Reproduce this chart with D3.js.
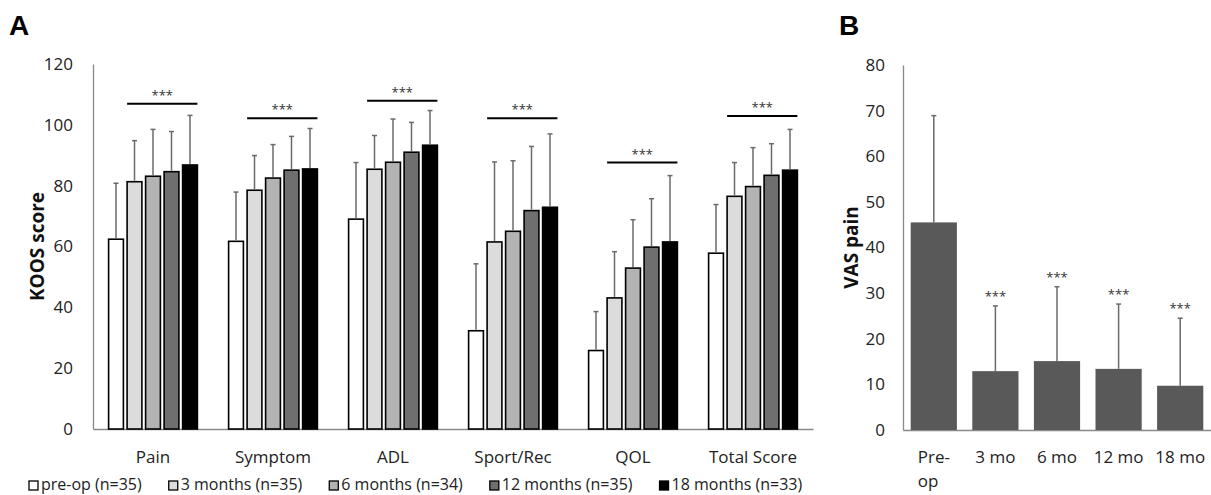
<!DOCTYPE html>
<html>
<head>
<meta charset="utf-8">
<script src="https://cdn.jsdelivr.net/npm/d3@7"></script>
<style>
  body { margin: 0; background: #fff; }
  svg { display: block; }
  text { font-family: "Open Sans", sans-serif; fill: #222; }
</style>
</head>
<body>
<svg id="chart" width="1211" height="495"></svg>
<script>
// Panel A: KOOS subscales by time point
const categories = ["Pain", "Symptom", "ADL", "Sport/Rec", "QOL", "Total Score"];
const timepoints = ["pre-op (n=35)", "3 months (n=35)", "6 months (n=34)", "12 months (n=35)", "18 months (n=33)"];
const preop = [62.4, 61.7, 69.0, 32.3, 25.8, 57.8];
const m3    = [81.3, 78.5, 85.4, 61.5, 43.1, 76.5];
const m6    = [83.1, 82.5, 87.7, 65.0, 52.9, 79.7];
const m12   = [84.6, 85.1, 91.0, 71.8, 59.8, 83.4];
const m18   = [86.8, 85.5, 93.3, 72.9, 61.5, 85.1];
const sdPreop = [18.4, 16.2, 18.6, 22.0, 12.8, 16.0];
const sd3     = [13.5, 11.4, 11.1, 26.3, 15.2, 11.1];
const sd6     = [15.4, 11.0, 14.2, 23.2, 15.9, 12.8];
const sd12    = [13.2, 11.1,  9.8, 21.1, 15.9, 10.4];
const sd18    = [16.3, 13.3, 11.4, 24.1, 21.8, 13.4];
const sigLevel = [106.9, 102.2, 107.9, 102.2, 87.6, 102.9];
const koosTicks = [0, 20, 40, 60, 80, 100, 120];

// Panel B: VAS pain
const vasLabels = ["Pre-op", "3 mo", "6 mo", "12 mo", "18 mo"];
const vasMeans = [45.5, 12.9, 15.1, 13.4, 9.7];
const vasSd = [23.4, 14.3, 16.3, 14.2, 14.8];
const vasSig = [false, true, true, true, true];
const vasTicks = [0, 10, 20, 30, 40, 50, 60, 70, 80];

const means = [preop, m3, m6, m12, m18];
const sds = [sdPreop, sd3, sd6, sd12, sd18];
const fills = ["#ffffff", "#dcdcdc", "#b3b3b3", "#6f6f6f", "#000000"];

const svg = d3.select("#chart");
const axisColor = "#898989";
const errColor = "#6a6a6a";

// ---------- Panel A ----------
const y = d3.scaleLinear().domain([0, 120]).range([429, 64]);
const x = d3.scaleBand().domain(categories).range([93, 813])
            .paddingInner(0.26).paddingOuter(0.13);
const xi = d3.scaleBand().domain(timepoints).range([0, x.bandwidth()]).paddingInner(0.2);

svg.append("text").attr("x", 9).attr("y", 35)
   .style("font-family", "'Liberation Sans', Arial, sans-serif")
   .style("font-weight", "bold").style("font-size", "28px").style("fill", "#000")
   .text("A");

const yAxisA = svg.append("g").attr("transform", "translate(93,0)")
   .call(d3.axisLeft(y).tickValues(koosTicks).tickSize(0).tickSizeOuter(0).tickPadding(20));
yAxisA.selectAll("text").style("font-size", "17px").style("font-family", "'Open Sans', sans-serif").attr("fill", "#222");

const xAxisA = svg.append("g").attr("transform", "translate(0,429)")
   .call(d3.axisBottom(x).tickSize(0).tickSizeOuter(0).tickPadding(22));
xAxisA.selectAll("text").style("font-size", "17px").style("font-family", "'Open Sans', sans-serif").attr("fill", "#222");

svg.selectAll(".domain").attr("stroke", axisColor).attr("stroke-width", 1.3);

svg.append("text")
   .attr("transform", `translate(44,${(y(0) + y(120)) / 2}) rotate(-90)`)
   .attr("text-anchor", "middle")
   .style("font-weight", "bold").style("font-size", "19px").style("fill", "#111")
   .text("KOOS score");

const rows = [];
categories.forEach((c, ci) => {
    timepoints.forEach((t, ti) => {
        rows.push({ cat: c, tp: t, ti: ti, mean: means[ti][ci], sd: sds[ti][ci] });
    });
});

const barsA = svg.append("g");
barsA.selectAll("rect").data(rows).join("rect")
   .attr("x", d => x(d.cat) + xi(d.tp))
   .attr("y", d => y(d.mean))
   .attr("width", xi.bandwidth())
   .attr("height", d => y(0) - y(d.mean))
   .attr("fill", d => fills[d.ti])
   .attr("stroke", "#000").attr("stroke-width", 1.6);

const errA = svg.append("g").attr("stroke", errColor).attr("stroke-width", 1.5);
errA.selectAll("line.v").data(rows).join("line").attr("class", "v")
   .attr("x1", d => x(d.cat) + xi(d.tp) + xi.bandwidth() / 2)
   .attr("x2", d => x(d.cat) + xi(d.tp) + xi.bandwidth() / 2)
   .attr("y1", d => y(d.mean) - 1)
   .attr("y2", d => y(d.mean + d.sd));
errA.selectAll("line.c").data(rows).join("line").attr("class", "c")
   .attr("x1", d => x(d.cat) + xi(d.tp) + xi.bandwidth() / 2 - 2.5)
   .attr("x2", d => x(d.cat) + xi(d.tp) + xi.bandwidth() / 2 + 2.5)
   .attr("y1", d => y(d.mean + d.sd))
   .attr("y2", d => y(d.mean + d.sd));

const sig = svg.append("g");
categories.forEach((c, ci) => {
    const x1 = x(c) + xi(timepoints[1]);
    const x2 = x(c) + xi(timepoints[4]) + xi.bandwidth();
    const ly = y(sigLevel[ci]);
    sig.append("line").attr("x1", x1).attr("x2", x2).attr("y1", ly).attr("y2", ly)
       .attr("stroke", "#000").attr("stroke-width", 2);
    sig.append("text").attr("x", (x1 + x2) / 2).attr("y", ly - 4)
       .attr("text-anchor", "middle").style("font-size", "13px").style("fill", "#333")
       .text("***");
});

// legend
const legend = svg.append("g");
let lx = 29;
timepoints.forEach((t, ti) => {
    legend.append("rect").attr("x", lx).attr("y", 481).attr("width", 9).attr("height", 9)
       .attr("fill", fills[ti]).attr("stroke", "#000").attr("stroke-width", 1.3);
    const txt = legend.append("text").attr("x", lx + 12).attr("y", 490)
       .style("font-size", "16px").text(t);
    lx += 12 + txt.node().getComputedTextLength() + 27;
});

// ---------- Panel B ----------
const yB = d3.scaleLinear().domain([0, 80]).range([430, 65]);
const xB = d3.scaleBand().domain(vasLabels).range([903, 1211])
             .paddingInner(0.25).paddingOuter(0.125);

svg.append("text").attr("x", 839).attr("y", 35)
   .style("font-family", "'Liberation Sans', Arial, sans-serif")
   .style("font-weight", "bold").style("font-size", "28px").style("fill", "#000")
   .text("B");

const yAxisB = svg.append("g").attr("transform", "translate(903,0)")
   .call(d3.axisLeft(yB).tickValues(vasTicks).tickSize(0).tickSizeOuter(0).tickPadding(18));
yAxisB.selectAll("text").style("font-size", "17px").style("font-family", "'Open Sans', sans-serif").attr("fill", "#222");

const xAxisB = svg.append("g").attr("transform", "translate(0,430)")
   .call(d3.axisBottom(xB).tickSize(0).tickSizeOuter(0).tickPadding(21));
xAxisB.selectAll("text").style("font-size", "17px").style("font-family", "'Open Sans', sans-serif").attr("fill", "#222");
// wrap "Pre-op" onto two lines like the original
xAxisB.selectAll("text").each(function(d) {
    if (d.indexOf("-") < 0) return;
    const t = d3.select(this);
    const parts = [d.slice(0, d.indexOf("-") + 1), d.slice(d.indexOf("-") + 1)];
    t.text(null);
    const first = t.append("tspan").attr("x", 0).text(parts[0]);
    const w = first.node().getComputedTextLength();
    t.append("tspan").attr("x", -w / 2).attr("dy", "1.4em").attr("text-anchor", "start").text(parts[1]);
});

svg.selectAll(".domain").attr("stroke", axisColor).attr("stroke-width", 1.3);

svg.append("text")
   .attr("transform", `translate(858,${(yB(0) + yB(80)) / 2}) rotate(-90)`)
   .attr("text-anchor", "middle")
   .style("font-weight", "bold").style("font-size", "19px").style("fill", "#111")
   .text("VAS pain");

const vasRows = vasLabels.map((l, i) => ({ label: l, mean: vasMeans[i], sd: vasSd[i], sig: vasSig[i] }));

svg.append("g").selectAll("rect").data(vasRows).join("rect")
   .attr("x", d => xB(d.label))
   .attr("y", d => yB(d.mean))
   .attr("width", xB.bandwidth())
   .attr("height", d => yB(0) - yB(d.mean))
   .attr("fill", "#595959");

const errB = svg.append("g").attr("stroke", errColor).attr("stroke-width", 1.5);
errB.selectAll("line.v").data(vasRows).join("line").attr("class", "v")
   .attr("x1", d => xB(d.label) + xB.bandwidth() / 2)
   .attr("x2", d => xB(d.label) + xB.bandwidth() / 2)
   .attr("y1", d => yB(d.mean))
   .attr("y2", d => yB(d.mean + d.sd));
errB.selectAll("line.c").data(vasRows).join("line").attr("class", "c")
   .attr("x1", d => xB(d.label) + xB.bandwidth() / 2 - 2.5)
   .attr("x2", d => xB(d.label) + xB.bandwidth() / 2 + 2.5)
   .attr("y1", d => yB(d.mean + d.sd))
   .attr("y2", d => yB(d.mean + d.sd));

svg.append("g").selectAll("text").data(vasRows.filter(d => d.sig)).join("text")
   .attr("x", d => xB(d.label) + xB.bandwidth() / 2)
   .attr("y", d => yB(d.mean + d.sd) - 5)
   .attr("text-anchor", "middle").style("font-size", "13px").style("fill", "#333")
   .text("***");
</script>
</body>
</html>
